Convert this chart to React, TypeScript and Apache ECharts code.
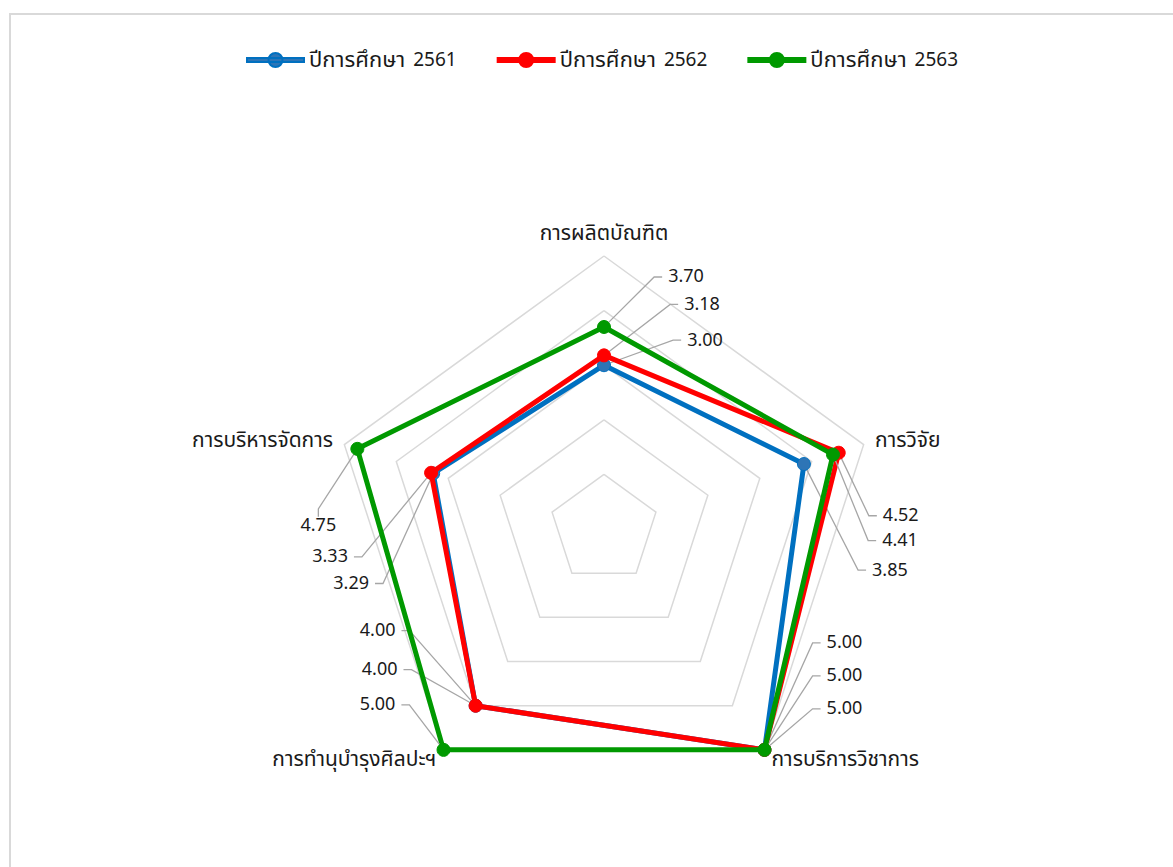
import React, { useEffect, useRef } from "react";
import * as echarts from "echarts";

// Indicators in ECharts' counter-clockwise order starting at the top
const categories = [
  "การผลิตบัณฑิต",
  "การบริหารจัดการ",
  "การทำนุบำรุงศิลปะฯ",
  "การบริการวิชาการ",
  "การวิจัย",
];
const seriesNames = ["ปีการศึกษา 2561", "ปีการศึกษา 2562", "ปีการศึกษา 2563"];
const values2561 = [3.0, 3.29, 4.0, 5.0, 3.85];
const values2562 = [3.18, 3.33, 4.0, 5.0, 4.52];
const values2563 = [3.7, 4.75, 5.0, 5.0, 4.41];
const axisMax = 5;

const FONT = "'Noto Sans Thai', 'Noto Sans', 'DejaVu Sans', sans-serif";
const CENTER = [604, 529];

// label offsets (px) from each point, per series, per axis (layout only)
const labelOffsets = [
  [[101, -25], [-82, 110], [-98, -75], [80, -107], [86, 106]],
  [[98, -51], [-101, 84], [-96, -36], [80, -74], [62, 63]],
  [[82, -50], [-39, 77], [-66, -45], [80, -41], [67, 86]],
];

const lineColors = ["#0070c0", "#ff0000", "#009900"];
const markerColors = ["#2e75b6", "#ff0000", "#009900"];

const legendIcon =
  "path://M0,6H57V10H0Z M35.5,8A7,7 0 1,1 21.5,8A7,7 0 1,1 35.5,8Z";

export default function App() {
  const ref = useRef<HTMLDivElement>(null);
  useEffect(() => {
    if (!ref.current) return;
    const chart = echarts.init(ref.current, null, { renderer: "svg" });
    const all = [values2561, values2562, values2563];
    const series = all.map((vals, si) => ({
      type: "radar",
      name: seriesNames[si],
      symbol: "circle",
      symbolSize: 13,
      lineStyle: { color: lineColors[si], width: 5 },
      itemStyle: { color: markerColors[si], borderColor: lineColors[si], borderWidth: 1 },
      z: 2 + si,
      data: [{ name: seriesNames[si], value: vals }],
      label: {
        show: true,
        position: "inside",
        color: "#1a1a1a",
        fontSize: 18,
        lineHeight: 18,
        padding: [0, 6],
        fontFamily: FONT,
        formatter: (p: any) => {
          const v = Array.isArray(p.value) ? p.value[p.dimensionIndex] : p.value;
          return Number(v).toFixed(2);
        },
      },
      labelLine: { show: true, length2: 8, lineStyle: { color: "#a6a6a6", width: 1.3 } },
      labelLayout: (params: any) => {
        const r = params.rect;
        const px = r.x + r.width / 2;
        const py = r.y + r.height / 2;
        const ang = (Math.atan2(CENTER[1] - py, px - CENTER[0]) * 180) / Math.PI;
        const rel = (((ang - 90) % 360) + 360) % 360;
        const ai = Math.round(rel / 72) % 5;
        const off = labelOffsets[si][ai];
        return { dx: off[0], dy: off[1] };
      },
    }));

    chart.setOption({
      animation: false,
      backgroundColor: "#ffffff",
      textStyle: { fontFamily: FONT },
      graphic: [
        {
          type: "rect",
          silent: true,
          shape: { x: 10, y: 14, width: 1400, height: 1000 },
          style: { fill: "none", stroke: "#d9d9d9", lineWidth: 2 },
        },
      ],
      legend: {
        top: 44,
        left: 241,
        itemWidth: 57,
        itemHeight: 16,
        itemGap: 40,
        icon: legendIcon,
        formatter: (name: string) => {
          const i = name.lastIndexOf(" ");
          return `{t|${name.slice(0, i)}}{n|${name.slice(i + 1)}}`;
        },
        textStyle: {
          color: "#1a1a1a",
          fontFamily: FONT,
          rich: {
            t: { fontSize: 22, color: "#1a1a1a", fontFamily: FONT },
            n: { fontSize: 19, color: "#1a1a1a", fontFamily: FONT, padding: [0, 0, 0, 8] },
          },
        },
        data: seriesNames,
      },
      radar: {
        center: CENTER,
        radius: 273,
        startAngle: 90,
        splitNumber: 5,
        shape: "polygon",
        nameGap: 12,
        axisName: { color: "#1a1a1a", fontSize: 21, fontFamily: FONT },
        indicator: categories.map((c) => ({ name: c, min: 0, max: axisMax })),
        splitLine: { lineStyle: { color: "#d9d9d9", width: 1.5 } },
        splitArea: { show: false },
        axisLine: { show: false },
        axisTick: { show: false },
        axisLabel: { show: false },
      },
      series,
    });
    return () => chart.dispose();
  }, []);
  return (
    <div ref={ref} style={{ position: "fixed", left: 0, top: 0, width: 1173, height: 867 }} />
  );
}
